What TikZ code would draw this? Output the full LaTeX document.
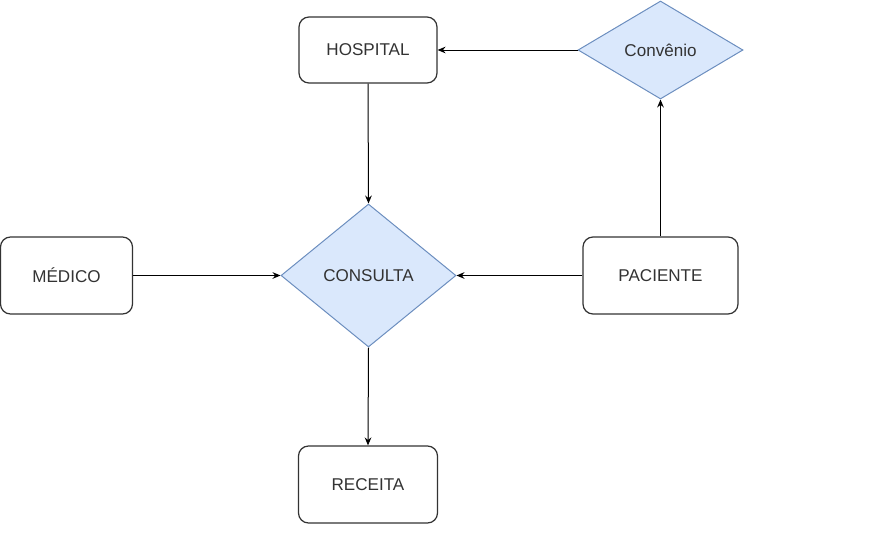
\documentclass[tikz,border=0pt]{standalone}
\usepackage{fontspec}
\setmainfont{Liberation Sans}
\usetikzlibrary{shapes.geometric,arrows.meta}
\definecolor{txt}{HTML}{333333}
\definecolor{bfill}{HTML}{DAE8FC}
\definecolor{bdraw}{HTML}{6C8EBF}
\tikzset{
  entity/.style={draw=black!80, line width=0.9pt, rounded corners=7.5pt, fill=white, inner sep=0pt, font=\fontsize{12.8}{14}\selectfont, text=txt},
  relation/.style={diamond, draw=bdraw, line width=0.75pt, fill=bfill, inner sep=0pt, font=\fontsize{12.8}{14}\selectfont, text=txt},
  conn/.style={line width=0.75pt, -{Stealth[length=6pt,width=5pt,inset=2pt]}}
}
\begin{document}
\begin{tikzpicture}[x=0.75pt,y=-0.75pt]
\useasboundingbox (0,0) rectangle (882,550);
\node[entity, minimum width=138*0.75pt, minimum height=66*0.75pt] (hosp) at (368,50) {HOSPITAL};
\node[relation, minimum width=165*0.75pt, minimum height=98*0.75pt] (conv) at (660.5,50) {Convênio};
\node[entity, minimum width=132*0.75pt, minimum height=77*0.75pt] (med) at (66.5,275.5) {MÉDICO};
\node[relation, minimum width=175*0.75pt, minimum height=143*0.75pt] (cons) at (368.5,275.5) {CONSULTA};
\node[entity, minimum width=155*0.75pt, minimum height=77*0.75pt] (pac) at (660.5,275.5) {PACIENTE};
\node[entity, minimum width=139*0.75pt, minimum height=77*0.75pt] (rec) at (368,484.5) {RECEITA};
\draw[conn] (conv.west) -- (hosp.east);
\draw[conn] (hosp.south) -- (cons.north);
\draw[conn] (med.east) -- (cons.west);
\draw[conn] (pac.west) -- (cons.east);
\draw[conn] (pac.north) -- (conv.south);
\draw[conn] (cons.south) -- (rec.north);
\end{tikzpicture}
\end{document}
